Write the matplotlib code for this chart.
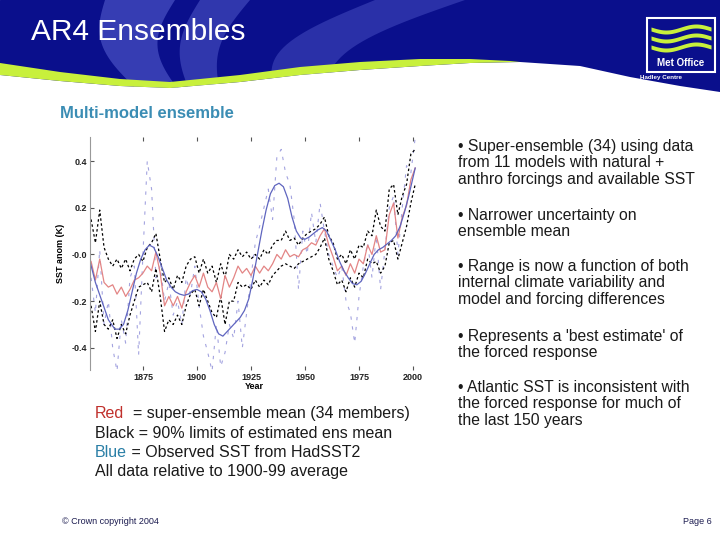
import numpy as np
import matplotlib
matplotlib.use('Agg')
import matplotlib.pyplot as plt
from matplotlib.patches import Polygon, Rectangle

plt.rcParams['font.family'] = ['Liberation Sans', 'DejaVu Sans']

# --- data ---
years2 = list(range(1851, 2002, 2))
ens_mean = [-0.03, -0.11, -0.02, -0.12, -0.14, -0.13, -0.17, -0.14, -0.18, -0.15,
            -0.11, -0.10, -0.08, -0.05, -0.07, 0.01, -0.08, -0.22, -0.18, -0.22,
            -0.18, -0.23, -0.16, -0.12, -0.09, -0.14, -0.08, -0.14, -0.16, -0.12,
            -0.19, -0.09, -0.14, -0.10, -0.05, -0.08, -0.06, -0.09, -0.05, -0.08,
            -0.05, -0.07, -0.04, 0.00, -0.02, 0.02, -0.01, 0.00, -0.01, 0.02,
            0.03, 0.05, 0.04, 0.08, 0.11, 0.04, -0.01, -0.07, -0.05, -0.09,
            -0.04, -0.08, -0.02, -0.04, 0.04, 0.00, 0.08, 0.01, 0.02, 0.17,
            0.22, 0.07, 0.16, 0.21, 0.32, 0.37]
upper90 = [0.15, 0.05, 0.19, 0.03, -0.02, -0.05, -0.02, -0.06, -0.02, -0.07,
           -0.02, 0.00, -0.03, 0.03, 0.05, 0.09, -0.02, -0.12, -0.10, -0.15,
           -0.09, -0.12, -0.05, -0.02, -0.01, -0.08, -0.02, -0.08, -0.05, -0.12,
           -0.04, -0.10, 0.00, -0.02, 0.02, -0.01, 0.01, -0.02, 0.00, -0.02,
           0.02, 0.00, 0.04, 0.06, 0.06, 0.10, 0.06, 0.07, 0.04, 0.07,
           0.09, 0.10, 0.11, 0.13, 0.16, 0.08, 0.05, -0.02, 0.00, -0.04,
           0.02, -0.02, 0.04, 0.03, 0.10, 0.08, 0.19, 0.12, 0.10, 0.28,
           0.30, 0.17, 0.25, 0.30, 0.43, 0.45]
lower90 = [-0.22, -0.33, -0.20, -0.30, -0.32, -0.28, -0.36, -0.30, -0.34, -0.26,
           -0.20, -0.14, -0.13, -0.12, -0.16, -0.06, -0.18, -0.33, -0.28, -0.30,
           -0.26, -0.30, -0.22, -0.17, -0.15, -0.22, -0.15, -0.20, -0.25, -0.27,
           -0.18, -0.30, -0.20, -0.20, -0.12, -0.14, -0.13, -0.15, -0.11, -0.14,
           -0.11, -0.13, -0.09, -0.07, -0.05, -0.04, -0.05, -0.06, -0.04, -0.03,
           -0.02, -0.01, 0.00, 0.03, 0.07, -0.02, -0.07, -0.13, -0.11, -0.16,
           -0.10, -0.14, -0.08, -0.10, -0.02, -0.04, -0.03, -0.08, -0.05, 0.05,
           0.06, -0.02, 0.05, 0.12, 0.22, 0.30]
obs_annual = [-0.10, -0.25, 0.02, -0.30, -0.20, -0.40, -0.50, -0.28, -0.38, -0.10,
              -0.05, -0.43, 0.00, 0.40, 0.28, -0.10, -0.05, -0.20, -0.12, -0.26,
              -0.20, -0.30, -0.10, -0.17, -0.05, -0.22, -0.35, -0.42, -0.50, -0.30,
              -0.48, -0.42, -0.30, -0.36, -0.20, -0.40, -0.25, -0.10, 0.05, 0.12,
              0.20, 0.28, 0.15, 0.42, 0.45, 0.35, 0.30, 0.15, -0.15, 0.10,
              0.00, 0.18, 0.05, 0.22, 0.10, 0.00, -0.05, -0.10, -0.05, -0.20,
              -0.25, -0.38, -0.18, -0.05, 0.05, -0.10, 0.08, -0.15, 0.02, 0.20,
              0.25, 0.00, 0.20, 0.38, 0.35, 0.50]

obs_years = [1850.5, 1853, 1856, 1859, 1862, 1864, 1866, 1868, 1870, 1872, 1874,
             1876, 1878, 1880, 1882, 1884, 1886, 1888, 1890, 1892, 1894, 1896,
             1898, 1900, 1902, 1904, 1906, 1908, 1910, 1912, 1914, 1916, 1918,
             1920, 1922, 1924, 1926, 1928, 1930, 1932, 1934, 1936, 1938, 1940,
             1942, 1944, 1946, 1948, 1950, 1952, 1954, 1956, 1958, 1960, 1962,
             1964, 1966, 1968, 1970, 1972, 1974, 1976, 1978, 1980, 1982, 1984,
             1986, 1988, 1990, 1992, 1994, 1996, 1998, 2000, 2001]
obs_smooth = [-0.03, -0.12, -0.20, -0.28, -0.32, -0.32, -0.30, -0.24, -0.16, -0.08,
              -0.02, 0.02, 0.04, 0.03, -0.01, -0.06, -0.11, -0.14, -0.16, -0.17,
              -0.175, -0.17, -0.155, -0.15, -0.16, -0.19, -0.24, -0.30, -0.34, -0.35,
              -0.33, -0.31, -0.29, -0.27, -0.24, -0.19, -0.10, 0.00, 0.10, 0.19,
              0.26, 0.295, 0.305, 0.29, 0.24, 0.16, 0.10, 0.07, 0.065, 0.075,
              0.09, 0.105, 0.115, 0.10, 0.06, 0.02, -0.03, -0.07, -0.10, -0.125,
              -0.13, -0.115, -0.08, -0.04, 0.00, 0.02, 0.03, 0.045, 0.06, 0.08,
              0.12, 0.18, 0.25, 0.33, 0.37]

xticks = [1875, 1900, 1925, 1950, 1975, 2000]
yticks = [-0.4, -0.2, 0.0, 0.2, 0.4]
ytick_labels = ['-0.4', '-0.2', '-0.0', '0.2', '0.4']

bullets = [
    "\u2022 Super-ensemble (34) using data\nfrom 11 models with natural +\nanthro forcings and available SST",
    "\u2022 Narrower uncertainty on\nensemble mean",
    "\u2022 Range is now a function of both\ninternal climate variability and\nmodel and forcing differences",
    "\u2022 Represents a 'best estimate' of\nthe forced response",
    "\u2022 Atlantic SST is inconsistent with\nthe forced response for much of\nthe last 150 years",
]
bullet_tops = [139, 208, 259, 329, 380]

navy = '#0a0f8c'
light = '#4a52c4'
lime = '#c8f03c'

fig = plt.figure(figsize=(7.2, 5.4), dpi=100)

# slide background in pixel coordinates
bg = fig.add_axes([0, 0, 1, 1])
bg.set_xlim(0, 720)
bg.set_ylim(540, 0)
bg.axis('off')

bg.add_patch(Rectangle((0, 0), 720, 110, color=navy, zorder=0))

# lighter curved swooshes in the banner
t = np.linspace(0, 1, 30)
def swoosh(x_top, x_bot, bend, w_top, w_bot, alpha):
    yy = t * 92
    xc = x_top + (x_bot - x_top) * t + bend * np.sin(np.pi * t)
    w = w_top + (w_bot - w_top) * t
    pts = list(zip(xc - w / 2, yy)) + list(zip((xc + w / 2)[::-1], yy[::-1]))
    bg.add_patch(Polygon(pts, closed=True, color=light, alpha=alpha, lw=0, zorder=1))

swoosh(140, 160, -20, 70, 40, 0.7)
swoosh(225, 205, -15, 50, 30, 0.6)
swoosh(420, 300, -40, 90, 50, 0.5)

# white body under the wave
edge = [(0, 75), (60, 81), (120, 86), (170, 88), (240, 82), (300, 75),
        (360, 70), (420, 66), (470, 63), (520, 62), (580, 66), (630, 77),
        (680, 86), (720, 92)]
bg.add_patch(Polygon(edge + [(720, 540), (0, 540)], closed=True,
                     color='white', lw=0, zorder=2))
# lime stripe
stripe_top = [(0, 63), (60, 72), (120, 79), (170, 82), (240, 75), (300, 67),
              (360, 62), (420, 59), (470, 59), (510, 61)]
stripe_bot = [(520, 62), (470, 63), (420, 66), (360, 70), (300, 75), (240, 82),
              (170, 88), (120, 86), (60, 81), (0, 75)]
bg.add_patch(Polygon(stripe_top + stripe_bot, closed=True, color=lime, lw=0, zorder=3))

bg.text(31, 32, 'AR4 Ensembles', color='white', fontsize=21.5, va='center',
        ha='left', zorder=5)

# Met Office logo
bg.add_patch(Rectangle((647, 18), 68, 54, fc=navy, ec='white', lw=1.5, zorder=5))
wx = np.linspace(651, 711, 60)
for base in [27, 36, 45]:
    wy = base + 3 * np.sin((wx - 651) / 60 * 2 * np.pi)
    bg.fill_between(wx, wy, wy + 4, color=lime, lw=0, zorder=6)
bg.text(681, 63, 'Met Office', color='white', fontsize=7, fontweight='bold',
        ha='center', va='center', zorder=7)
bg.text(640, 77, 'Hadley Centre', color='white', fontsize=4.5, fontweight='bold',
        ha='left', va='center', zorder=7)

bg.text(60, 113, 'Multi-model ensemble', color='#3b8db4', fontsize=12,
        fontweight='bold', va='center', ha='left')

for txt, top in zip(bullets, bullet_tops):
    bg.text(458, top, txt, fontsize=11.3, color='#1a1a1a', va='top', ha='left',
            linespacing=1.12)

# colour key under the chart (baseline aligned)
r = fig.canvas.get_renderer()
inv = bg.transData.inverted()
key_size = 11.5

def key_line(y, word, colour, rest):
    tx = bg.text(95, y, word, color=colour, fontsize=key_size, va='baseline', ha='left')
    x1 = inv.transform((tx.get_window_extent(renderer=r).x1, 0))[0]
    bg.text(x1, y, rest, color='#1a1a1a', fontsize=key_size, va='baseline', ha='left')

key_line(418, 'Red', '#c0302c', '  = super-ensemble mean (34 members)')
bg.text(95, 438, 'Black = 90% limits of estimated ens mean', color='#1a1a1a',
        fontsize=key_size, va='baseline', ha='left')
key_line(457, 'Blue', '#2a7fa6', ' = Observed SST from HadSST2')
bg.text(95, 476, 'All data relative to 1900-99 average', color='#1a1a1a',
        fontsize=key_size, va='baseline', ha='left')

bg.text(62, 522, '\u00a9 Crown copyright 2004', color='#1c1c50', fontsize=6.5,
        va='center', ha='left')
bg.text(712, 522, 'Page 6', color='#1c1c50', fontsize=6.5, va='center', ha='right')

# --- chart ---
ax = fig.add_axes([90 / 720, 1 - 370 / 540, 328 / 720, 233 / 540])
ax.set_facecolor('none')
ax.plot(years2, obs_annual, color='#8585d5', lw=0.8, ls=(0, (3, 6)), alpha=0.75)
ax.plot(years2, upper90, color='black', lw=0.9, ls=(0, (2, 2)))
ax.plot(years2, lower90, color='black', lw=0.9, ls=(0, (2, 2)))
ax.plot(years2, ens_mean, color='#e38585', lw=0.9)
ax.plot(obs_years, obs_smooth, color='#5f65bf', lw=0.9)

ax.set_xlim(1850.5, 2002.3)
ax.set_ylim(-0.495, 0.503)
ax.set_xticks(xticks)
ax.set_xticklabels([str(v) for v in xticks])
ax.set_yticks(yticks)
ax.set_yticklabels(ytick_labels)
for lab in ax.get_xticklabels() + ax.get_yticklabels():
    lab.set_fontsize(6.5)
    lab.set_fontweight('bold')
    lab.set_color('#222222')
ax.tick_params(direction='in', length=3, width=0.8, colors='#555555', pad=2,
               top=True, labelcolor='#222222')
for s in ['top', 'right', 'bottom']:
    ax.spines[s].set_visible(False)
ax.spines['left'].set_color('#999999')
ax.spines['left'].set_linewidth(0.8)
ax.set_xlabel('Year', fontsize=6.5, fontweight='bold', labelpad=0)
ax.set_ylabel('SST anom (K)', fontsize=6.5, fontweight='bold', labelpad=5)

plt.savefig('out.png', dpi=100)
plt.close()
